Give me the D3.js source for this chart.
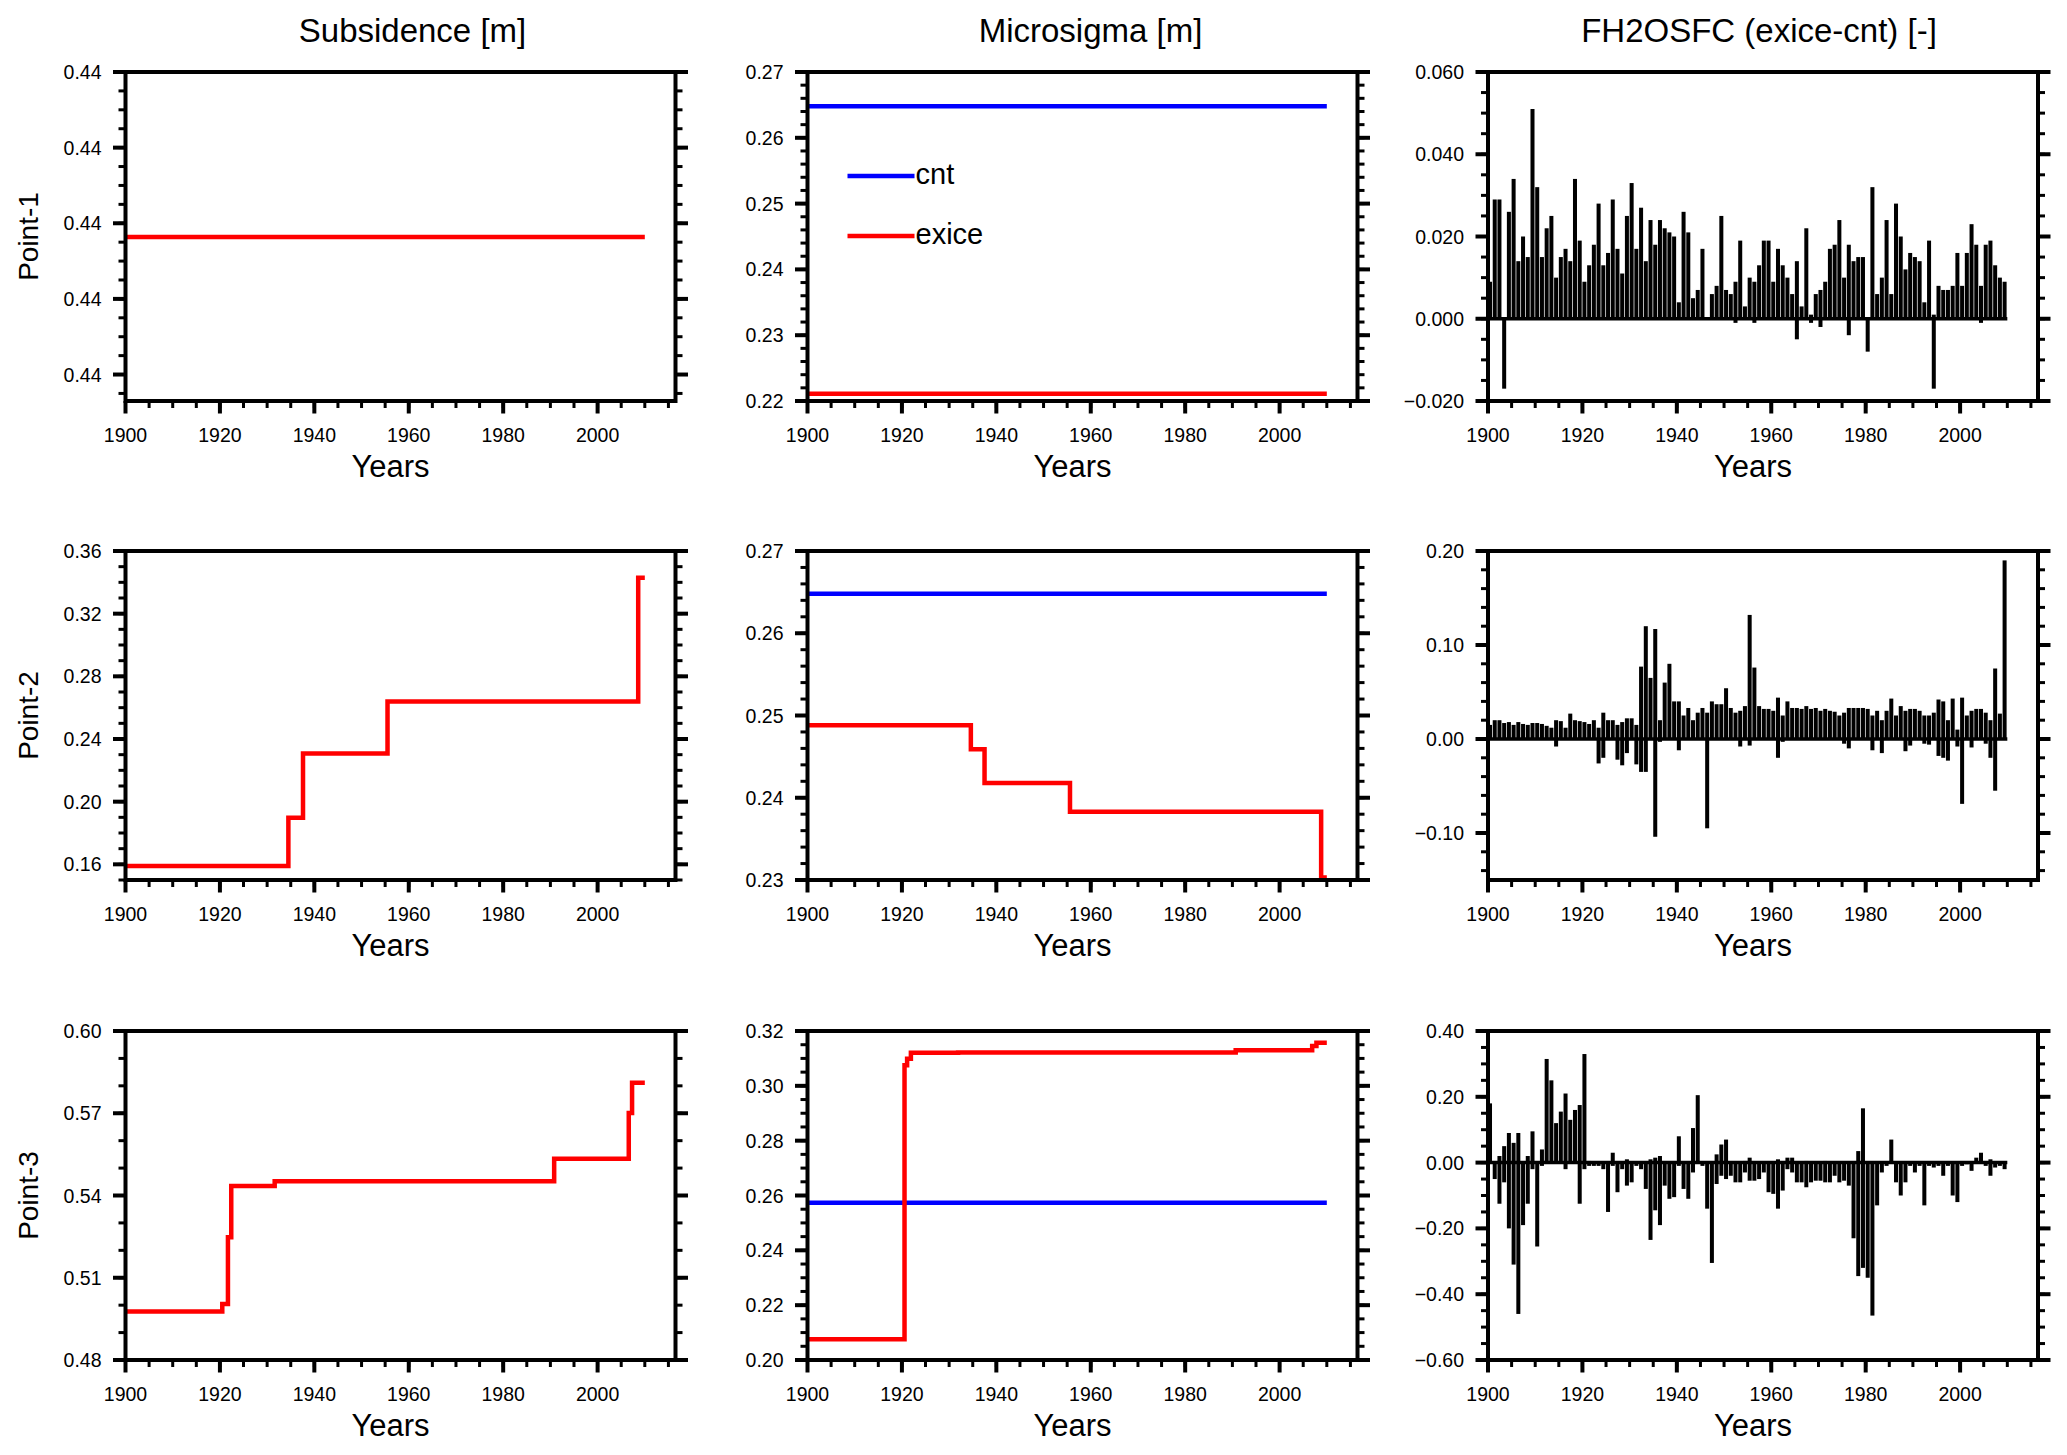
<!DOCTYPE html>
<html>
<head>
<meta charset="utf-8">
<script src="https://cdn.jsdelivr.net/npm/d3@7"></script>
<style>
  body { margin: 0; background: #fff; }
  text { font-family: "Liberation Sans", Arial, Helvetica, sans-serif; fill: #000; }
</style>
</head>
<body>
<div id="chart"></div>
<script>
// column titles / row labels
var colTitles = ["Subsidence [m]", "Microsigma [m]", "FH2OSFC (exice-cnt) [-]"];
var rowLabels = ["Point-1", "Point-2", "Point-3"];
var legendNames = ["cnt", "exice"];

// x axis
var xMajor = [1900, 1920, 1940, 1960, 1980, 2000];
var xDomain = [1900, 2016.5];
var barYears = d3.range(1900, 2010);

// Subsidence (exice), step series: change years + values
var subs1Years = [1900, 2010];
var subs1Vals = [0.4399635, 0.4399635];
var subs2Years = [1900, 1934.5, 1937.6, 1955.5, 2008.6, 2010];
var subs2Vals = [0.159, 0.1897, 0.2307, 0.264, 0.343, 0.343];
var subs3Years = [1900, 1920.5, 1921.7, 1922.4, 1931.6, 1990.8, 2006.6, 2007.3, 2010];
var subs3Vals = [0.4977, 0.5004, 0.5248, 0.5435, 0.5452, 0.5534, 0.5701, 0.5811, 0.5811];

// Microsigma cnt (blue) and exice (red)
var micro1CntYears = [1900, 2010];
var micro1CntVals = [0.2648, 0.2648];
var micro1ExYears = [1900, 2010];
var micro1ExVals = [0.2211, 0.2211];
var micro2CntYears = [1900, 2010];
var micro2CntVals = [0.2648, 0.2648];
var micro2ExYears = [1900, 1934.6, 1937.5, 1955.6, 2008.8, 2010];
var micro2ExVals = [0.2488, 0.2459, 0.2418, 0.2383, 0.2303, 0.2303];
var micro3CntYears = [1900, 2010];
var micro3CntVals = [0.2574, 0.2574];
var micro3ExYears = [1900, 1920.55, 1921.1, 1921.9, 1931.9, 1990.7, 2006.9, 2007.8, 2010];
var micro3ExVals = [0.2076, 0.3075, 0.3099, 0.3121, 0.3122, 0.3130, 0.3145, 0.3157, 0.3157];

// FH2OSFC exice-cnt, yearly max (pos) and min (neg), 1900-2009
var fh1Pos = [
  0.009,0.029,0.029,0,0.026,0.034,0.014,0.020,0.015,0.051,
  0.032,0.015,0.022,0.025,0.010,0.015,0.017,0.014,0.034,0.019,
  0.009,0.013,0.018,0.028,0.013,0.016,0.029,0.017,0.011,0.025,
  0.033,0.017,0.027,0.014,0.024,0.018,0.024,0.022,0.021,0.020,
  0.004,0.026,0.021,0.005,0.007,0.017,0,0.006,0.008,0.025,
  0.007,0.006,0.009,0.019,0.003,0.010,0.009,0.013,0.019,0.019,
  0.009,0.017,0.013,0.010,0.006,0.014,0.003,0.022,0.001,0.006,
  0.007,0.009,0.017,0.018,0.024,0.010,0.018,0.014,0.015,0.015,
  0,0.032,0.006,0.010,0.024,0.006,0.028,0.020,0.012,0.016,
  0.015,0.014,0.004,0.019,0.001,0.008,0.007,0.007,0.008,0.016,
  0.008,0.016,0.023,0.018,0.008,0.018,0.019,0.013,0.010,0.009];
var fh1Neg = [
  0,0,0,-0.017,0,0,0,0,0,0,
  0,0,0,0,0,0,0,0,0,0,
  0,0,0,0,0,0,0,0,0,0,
  0,0,0,0,0,0,0,0,0,0,
  0,0,0,0,0,0,0,0,0,0,
  0,0,-0.001,0,0,0,-0.001,0,0,0,
  0,0,0,0,0,-0.005,0,0,-0.001,0,
  -0.002,0,0,0,0,0,-0.004,0,0,0,
  -0.008,0,0,0,0,0,0,0,0,0,
  0,0,0,0,-0.017,0,0,0,0,0,
  0,0,0,0,-0.001,0,0,0,0,0];

var fh2Pos = [
  0.015,0.020,0.020,0.017,0.018,0.015,0.018,0.016,0.015,0.017,
  0.017,0.016,0.014,0.012,0.020,0.019,0.012,0.027,0.020,0.019,
  0.018,0.016,0.020,0.012,0.028,0.020,0.020,0.015,0.018,0.022,
  0.022,0.015,0.077,0.120,0.065,0.117,0.020,0.060,0.080,0.040,
  0.040,0.025,0.033,0.020,0.028,0.033,0.028,0.040,0.037,0.037,
  0.054,0.033,0.028,0.030,0.035,0.132,0.076,0.035,0.032,0.032,
  0.030,0.044,0.025,0.040,0.033,0.033,0.032,0.035,0.032,0.033,
  0.030,0.032,0.030,0.029,0.025,0.028,0.033,0.033,0.033,0.033,
  0.032,0.025,0.030,0.020,0.030,0.043,0.025,0.035,0.030,0.032,
  0.032,0.030,0.025,0.025,0.028,0.042,0.040,0.020,0.043,0.010,
  0.044,0.025,0.030,0.032,0.032,0.028,0.020,0.075,0.027,0.190];
var fh2Neg = [
  0,0,0,0,0,0,0,0,0,0,
  0,0,0,0,-0.008,0,0,0,0,0,
  0,0,0,-0.026,-0.020,0,0,-0.022,-0.028,-0.015,
  0,-0.027,-0.035,-0.035,0,-0.104,-0.003,0,0,0,
  -0.012,0,0,0,0,0,-0.095,0,0,0,
  0,0,0,-0.008,0,-0.007,0,0,0,0,
  0,-0.020,-0.003,0,0,0,0,0,0,0,
  0,0,0,0,0,-0.005,-0.010,0,0,0,
  0,-0.012,0,-0.015,0,0,0,0,-0.013,-0.007,
  0,0,-0.005,-0.006,0,-0.018,-0.020,-0.023,0,-0.008,
  -0.069,0,-0.009,0,0,-0.005,-0.020,-0.055,0,0];

var fh3Pos = [
  0.18,0,0.02,0.05,0.09,0.06,0.09,0,0.02,0.095,
  0,0.04,0.315,0.25,0.12,0.155,0.21,0.13,0.16,0.175,
  0.33,0.005,0,0,0,0,0.03,0,0,0.01,
  0,0,0,0,0.01,0.015,0.02,0,0,0,
  0.08,0,0,0.105,0.205,0,0,0,0.025,0.055,
  0.07,0,0,0,0.005,0.015,0,0,0,0,
  0,0.01,0,0.015,0.015,0,0,0.005,0,0,
  0,0.005,0,0,0,0,0,0,0.035,0.165,
  0,0,0,0,0,0.07,0,0,0,0,
  0,0,0,0,0,0,0,0,0,0,
  0,0,0,0.015,0.03,0,0.01,0,0,0];
var fh3Neg = [
  0,-0.05,-0.125,-0.06,-0.20,-0.31,-0.46,-0.19,-0.125,-0.02,
  -0.255,-0.01,0,0,0,0,-0.02,0,0,-0.125,
  -0.02,-0.01,-0.01,-0.01,-0.02,-0.15,-0.01,-0.09,-0.02,-0.07,
  -0.06,-0.01,-0.02,-0.08,-0.235,-0.145,-0.19,-0.07,-0.11,-0.105,
  -0.01,-0.08,-0.11,-0.03,0,-0.01,-0.14,-0.305,-0.065,-0.04,
  -0.05,-0.04,-0.06,-0.06,-0.03,-0.055,-0.055,-0.05,-0.03,-0.09,
  -0.095,-0.14,-0.085,-0.02,-0.03,-0.06,-0.06,-0.075,-0.06,-0.055,
  -0.055,-0.06,-0.06,-0.04,-0.06,-0.055,-0.07,-0.23,-0.345,-0.32,
  -0.35,-0.465,-0.13,-0.03,-0.01,0,-0.06,-0.10,-0.06,-0.01,
  -0.03,-0.01,-0.13,-0.01,-0.015,-0.01,-0.04,-0.01,-0.10,-0.12,
  -0.01,-0.005,-0.025,0,0,-0.01,-0.04,-0.015,-0.01,-0.02];

// y axes per panel
var subsTicks = [[0.4396, 0.4398, 0.4400, 0.4402, 0.4404],
                 [0.16, 0.20, 0.24, 0.28, 0.32, 0.36],
                 [0.48, 0.51, 0.54, 0.57, 0.60]];
var microTicks = [[0.22, 0.23, 0.24, 0.25, 0.26, 0.27],
                  [0.23, 0.24, 0.25, 0.26, 0.27],
                  [0.20, 0.22, 0.24, 0.26, 0.28, 0.30, 0.32]];
var fhTicks = [[-0.02, 0, 0.02, 0.04, 0.06],
               [-0.10, 0, 0.10, 0.20],
               [-0.60, -0.40, -0.20, 0, 0.20, 0.40]];

var W = 2067, H = 1455;
var colX = [125.5, 807.5, 1488];
var rowY = [72, 551, 1031];
var pw = 550, ph = 329;
var titleShift = [12, 8, -4];

var svg = d3.select("#chart").append("svg")
    .attr("width", W)
    .attr("height", H);

var xs = d3.scaleLinear().domain(xDomain).range([0, pw]);

function minorTicks(lo, hi, step){
    var out = [];
    var k0 = Math.ceil(lo/step - 1e-6), k1 = Math.floor(hi/step + 1e-6);
    for(var k=k0; k<=k1; k++) out.push(k*step);
    return out;
}

function drawPanel(col, row, cfg){
    var g = svg.append("g")
        .attr("transform", "translate(" + colX[col] + "," + rowY[row] + ")");
    var ys = d3.scaleLinear().domain(cfg.yDomain).range([ph, 0]);

    //bars for the difference panels
    if(cfg.pos){
        g.append("line")
            .attr("x1", xs(1900)).attr("x2", xs(2010))
            .attr("y1", ys(0)).attr("y2", ys(0))
            .attr("stroke", "black").attr("stroke-width", 3.5);
        var bars = [];
        barYears.forEach(function(yr, i){
            if(cfg.pos[i] != 0) bars.push({yr: yr, v: cfg.pos[i]});
            if(cfg.neg[i] != 0) bars.push({yr: yr, v: cfg.neg[i]});
        });
        g.selectAll("rect.bar").data(bars).enter().append("rect")
            .attr("class", "bar")
            .attr("x", function(d){ return xs(d.yr); })
            .attr("width", function(d){ return xs(d.yr + 0.85) - xs(d.yr); })
            .attr("y", function(d){ return Math.min(ys(d.v), ys(0)); })
            .attr("height", function(d){ return Math.abs(ys(d.v) - ys(0)); })
            .attr("fill", "black");
    }

    //step lines
    var line = d3.line()
        .x(function(d){ return xs(d[0]); })
        .y(function(d){ return ys(d[1]); })
        .curve(d3.curveStepAfter);
    (cfg.series || []).forEach(function(s){
        g.append("path")
            .datum(d3.zip(s.x, s.y))
            .attr("d", line)
            .attr("fill", "none")
            .attr("stroke", s.color)
            .attr("stroke-width", 4.5);
    });

    //frame
    g.append("rect")
        .attr("width", pw).attr("height", ph)
        .attr("fill", "none")
        .attr("stroke", "black")
        .attr("stroke-width", 4);

    //y ticks left and right, outward
    var ymin = minorTicks(cfg.yDomain[0], cfg.yDomain[1], cfg.yMinor);
    ymin.forEach(function(v){
        g.append("line").attr("x1", 0).attr("x2", -7)
            .attr("y1", ys(v)).attr("y2", ys(v))
            .attr("stroke", "black").attr("stroke-width", 3);
        g.append("line").attr("x1", pw).attr("x2", pw + 7)
            .attr("y1", ys(v)).attr("y2", ys(v))
            .attr("stroke", "black").attr("stroke-width", 3);
    });
    cfg.yTicks.forEach(function(v){
        g.append("line").attr("x1", 0).attr("x2", -12.5)
            .attr("y1", ys(v)).attr("y2", ys(v))
            .attr("stroke", "black").attr("stroke-width", 4);
        g.append("line").attr("x1", pw).attr("x2", pw + 12.5)
            .attr("y1", ys(v)).attr("y2", ys(v))
            .attr("stroke", "black").attr("stroke-width", 4);
        g.append("text")
            .attr("x", -24).attr("y", ys(v))
            .attr("dy", "0.36em")
            .attr("text-anchor", "end")
            .style("font-size", "19.5px")
            .text(cfg.fmt(v));
    });

    //x ticks at the bottom, outward
    minorTicks(1900, 2016, 5).forEach(function(v){
        g.append("line").attr("x1", xs(v)).attr("x2", xs(v))
            .attr("y1", ph).attr("y2", ph + 7)
            .attr("stroke", "black").attr("stroke-width", 3);
    });
    xMajor.forEach(function(v){
        g.append("line").attr("x1", xs(v)).attr("x2", xs(v))
            .attr("y1", ph).attr("y2", ph + 12.5)
            .attr("stroke", "black").attr("stroke-width", 4);
        g.append("text")
            .attr("x", xs(v)).attr("y", ph + 41)
            .attr("text-anchor", "middle")
            .style("font-size", "19.5px")
            .text(v);
    });
    g.append("text")
        .attr("x", pw/2 - 10).attr("y", ph + 76)
        .attr("text-anchor", "middle")
        .style("font-size", "31px")
        .text("Years");

    return {g: g, ys: ys};
}

var f2 = d3.format(".2f"), f3 = d3.format(".3f");
var RED = "#ff0000", BLUE = "#0000ff";

var subsDomains = [[0.43953, 0.4404], [0.15, 0.36], [0.48, 0.60]];
var subsMinor = [0.00005, 0.01, 0.01];
var subsData = [[subs1Years, subs1Vals], [subs2Years, subs2Vals], [subs3Years, subs3Vals]];
var microDomains = [[0.22, 0.27], [0.23, 0.27], [0.20, 0.32]];
var microMinor = [0.002, 0.002, 0.005];
var microData = [
    [[micro1CntYears, micro1CntVals], [micro1ExYears, micro1ExVals]],
    [[micro2CntYears, micro2CntVals], [micro2ExYears, micro2ExVals]],
    [[micro3CntYears, micro3CntVals], [micro3ExYears, micro3ExVals]]];
var fhDomains = [[-0.02, 0.06], [-0.15, 0.20], [-0.60, 0.40]];
var fhMinor = [0.005, 0.02, 0.05];
var fhData = [[fh1Pos, fh1Neg], [fh2Pos, fh2Neg], [fh3Pos, fh3Neg]];

for(var r=0; r<3; r++){
    drawPanel(0, r, {
        yDomain: subsDomains[r], yTicks: subsTicks[r], yMinor: subsMinor[r], fmt: f2,
        series: [{x: subsData[r][0], y: subsData[r][1], color: RED}]
    });
    var mp = drawPanel(1, r, {
        yDomain: microDomains[r], yTicks: microTicks[r], yMinor: microMinor[r], fmt: f2,
        series: [{x: microData[r][0][0], y: microData[r][0][1], color: BLUE},
                 {x: microData[r][1][0], y: microData[r][1][1], color: RED}]
    });
    if(r == 0){
        //legend
        var ly = [104, 164], lc = [BLUE, RED];
        legendNames.forEach(function(name, i){
            mp.g.append("line")
                .attr("x1", 40).attr("x2", 107)
                .attr("y1", ly[i]).attr("y2", ly[i])
                .attr("stroke", lc[i]).attr("stroke-width", 4.5);
            mp.g.append("text")
                .attr("x", 108).attr("y", ly[i] + 8)
                .style("font-size", "29px")
                .text(name);
        });
    }
    drawPanel(2, r, {
        yDomain: fhDomains[r], yTicks: fhTicks[r], yMinor: fhMinor[r],
        fmt: r == 0 ? f3 : f2,
        pos: fhData[r][0], neg: fhData[r][1]
    });

    svg.append("text")
        .attr("transform", "translate(38," + (rowY[r] + ph/2) + ") rotate(-90)")
        .attr("text-anchor", "middle")
        .style("font-size", "28px")
        .text(rowLabels[r]);
}

colTitles.forEach(function(t, i){
    svg.append("text")
        .attr("x", colX[i] + pw/2 + titleShift[i])
        .attr("y", 42)
        .attr("text-anchor", "middle")
        .style("font-size", "33px")
        .text(t);
});
</script>
</body>
</html>
